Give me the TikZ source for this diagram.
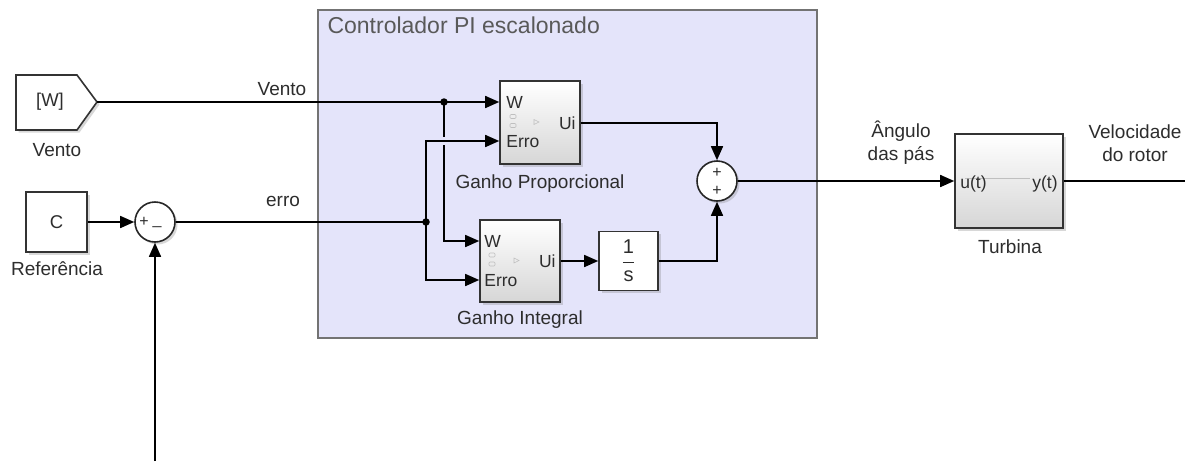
\documentclass[tikz,border=0pt]{standalone}
\usepackage{fontspec}
\setmainfont{Liberation Sans}
\usetikzlibrary{arrows.meta,shadows,calc}
\definecolor{bgblue}{RGB}{228,228,250}
\definecolor{txt}{RGB}{45,45,45}
\begin{document}
\begin{tikzpicture}[x=1pt,y=-1pt,
  wire/.style={line width=1.6pt, draw=black},
  arr/.style={wire, -{Triangle[length=14pt,width=12pt]}},
  lbl/.style={font=\fontsize{19}{23}\selectfont, text=txt, align=center},
  port/.style={font=\fontsize{17.5}{20}\selectfont, text=txt, inner sep=0pt},
  shad/.style={drop shadow={shadow xshift=2.5pt,shadow yshift=-2.5pt,opacity=0.3}},
  blk/.style={draw=black!80, line width=1.6pt, top color=white, bottom color=black!16, shad, inner sep=0pt},
  wblk/.style={draw=black!80, line width=1.6pt, fill=white, shad, inner sep=0pt},
  sumc/.style={circle, draw=black!85, line width=1.6pt, fill=white, shad, minimum size=40pt, inner sep=0pt},
  sgn/.style={font=\fontsize{16}{16}\selectfont, text=txt, inner sep=0pt},
  dot/.style={circle, fill=black, minimum size=7.5pt, inner sep=0pt}
]
\useasboundingbox[fill=white] (0,0) rectangle (1185,461);

% subsystem area
\draw[draw=black!55, fill=bgblue, line width=1.2pt] (318,10) rectangle (817,338);
\node[anchor=west, font=\fontsize{23}{25}\selectfont, text=black!65] (title) at (324,25) {Controlador PI escalonado};

% From block [W]
\filldraw[draw=black!80, fill=white, line width=1.6pt, shad] (16,75) -- (77,75) -- (97,102) -- (77,130) -- (16,130) -- cycle;
\node[port, font=\fontsize{18.5}{20}\selectfont] (from) at (50,102) {[W]};
\coordinate (fromtip) at (97,102);
\node[lbl] (fromlbl) at (57,150) {Vento};

% Constant C
\node[wblk, minimum width=61pt, minimum height=60pt] (c) at (56.5,222) {};
\node[port, font=\fontsize{18.5}{20}\selectfont] (ctext) at (c) {C};
\node[lbl] (reflbl) at (57,269) {Referência};

% sum 1
\node[sumc] (s1) at (155,222) {};
\node[sgn] (s1p) at (144,221.5) {+};
\node[sgn] (s1m) at (157,226) {\_};
\coordinate (fb) at (155,461);

% Ganho Proporcional
\node[blk, minimum width=80pt, minimum height=83pt] (gp) at (540,122.5) {};
\coordinate (gpW) at ($(gp.west)+(0,-20.5)$);
\coordinate (gpE) at ($(gp.west)+(0,18.5)$);
\coordinate (gpU) at ($(gp.east)+(0,0.5)$);
\node[port, anchor=west] (gpWt) at ($(gpW)+(7,0)$) {W};
\node[port, anchor=west] (gpEt) at ($(gpE)+(7,1)$) {Erro};
\node[port, anchor=east] (gpUt) at ($(gpU)+(-5,0)$) {Ui};
\draw[black!25, line width=0.6pt, rounded corners=1pt] (510,114.5) rectangle (516,118.5) (510,123.5) rectangle (516,127.5);
\draw[black!25, line width=0.6pt] (534,119.5) -- (539,122) -- (534,124.5) -- cycle;
\node[lbl] (gplbl) at (540,184) {Ganho Proporcional};

% Ganho Integral
\node[blk, minimum width=80pt, minimum height=82pt] (gi) at (520,261) {};
\coordinate (giW) at ($(gi.west)+(0,-20)$);
\coordinate (giE) at ($(gi.west)+(0,19)$);
\coordinate (giU) at (gi.east);
\node[port, anchor=west] (giWt) at ($(giW)+(5,0)$) {W};
\node[port, anchor=west] (giEt) at ($(giE)+(5,1)$) {Erro};
\node[port, anchor=east] (giUt) at ($(giU)+(-5,0)$) {Ui};
\draw[black!25, line width=0.6pt, rounded corners=1pt] (489,253) rectangle (495,257) (489,262) rectangle (495,266);
\draw[black!25, line width=0.6pt] (514,258) -- (519,260.5) -- (514,263) -- cycle;
\node[lbl] (gilbl) at (520,320) {Ganho Integral};

% integrator
\node[wblk, minimum width=59pt, minimum height=59pt] (integ) at (628.5,261) {};
\node[font=\fontsize{20}{22}\selectfont, text=txt, inner sep=0pt] (integt) at (integ) {$\displaystyle\frac{\mbox{1}}{\mbox{s}}$};

% sum 2
\node[sumc] (s2) at (717,181) {};
\node[sgn] (s2a) at (717,172.5) {+};
\node[sgn] (s2b) at (717,191) {+};

% Turbina
\node[blk, minimum width=108pt, minimum height=94pt] (tur) at (1009,181) {};
\draw[black!25, line width=0.6pt] (965,178) -- (1030,178);
\node[port, anchor=west] (turu) at ($(tur.west)+(6,3)$) {u(t)};
\node[port, anchor=east] (tury) at ($(tur.east)+(-6,3)$) {y(t)};
\node[lbl] (turlbl) at (1010,247) {Turbina};
\coordinate (out) at (1185,181);

% junctions
\coordinate (j1) at (444,102);
\coordinate (j2) at (426,222);

% wires
\draw[arr] (fromtip) -- (gpW);
\draw[arr] (j1) |- (giW);
\draw[wire] (s1.east) -- (j2);
\draw[draw=bgblue, line width=3pt] (444,137) -- (444,145);
\draw[arr] (j2) |- (gpE);
\draw[arr] (j2) |- (giE);
\draw[arr] (gpU) -| (s2.north);
\draw[arr] (giU) -- (integ.west);
\draw[arr] (integ.east) -| (s2.south);
\draw[arr] (s2.east) -- (tur.west);
\draw[wire] (tur.east) -- (out);
\draw[arr] (c.east) -- (s1.west);
\draw[arr] (fb) -- (s1.south);

\node[dot] (d1) at (j1) {};
\node[dot] (d2) at (j2) {};

% wire labels
\node[lbl] (ventolbl) at (282,89) {Vento};
\node[lbl] (errolbl) at (283,201) {erro};
\node[lbl] (angl) at (901,143) {Ângulo\\das pás};
\node[lbl] (vell) at (1135,143) {Velocidade\\do rotor};
\end{tikzpicture}
\end{document}
